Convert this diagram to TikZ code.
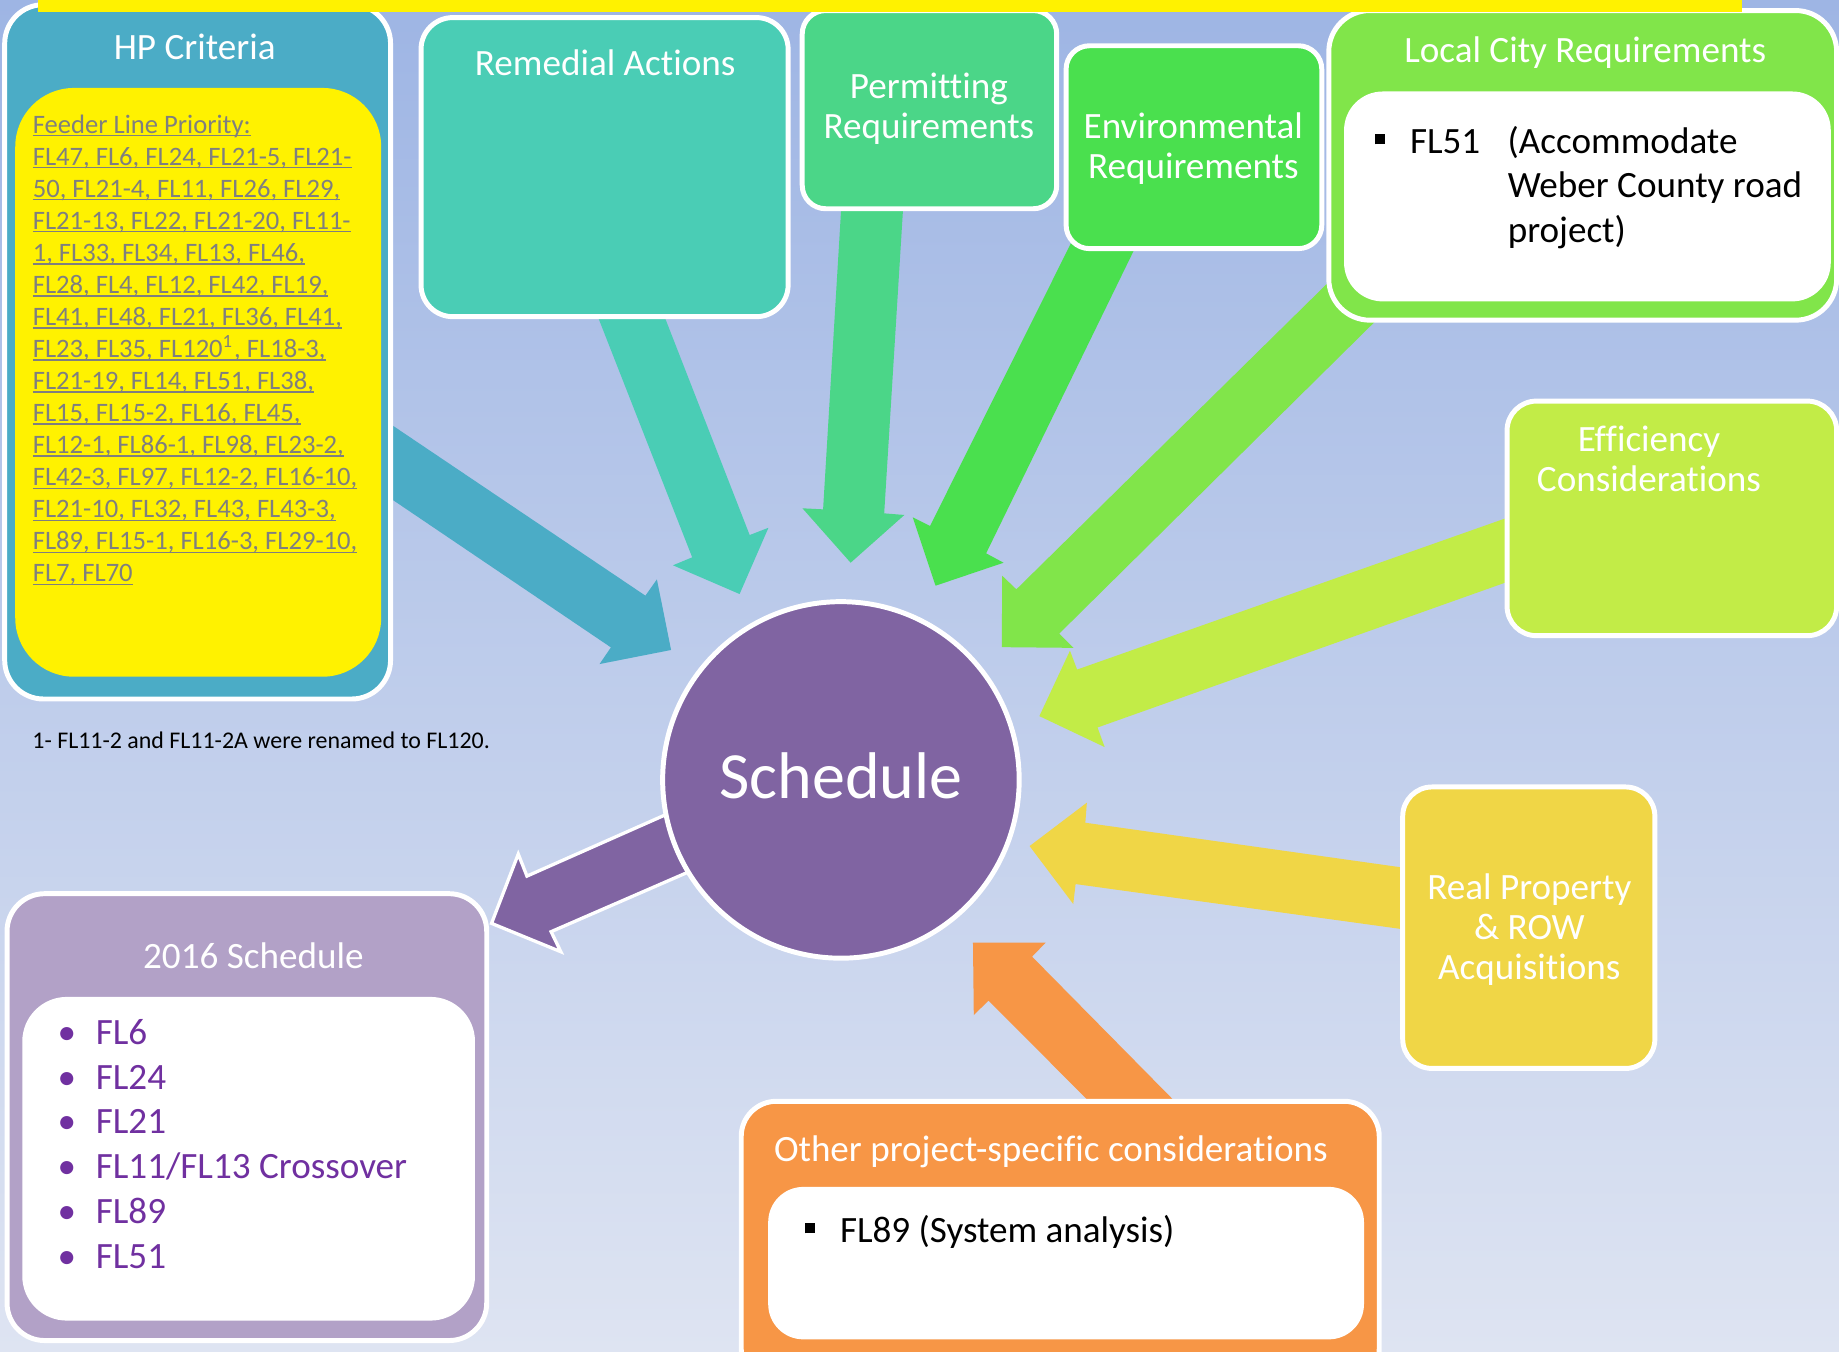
\documentclass[tikz,border=0pt]{standalone}
\usepackage{fontspec}
\setmainfont{Carlito}[Ligatures=NoCommon]
\definecolor{bgtop}{RGB}{158,181,228}
\definecolor{bgbot}{RGB}{222,228,242}
\definecolor{hpc}{HTML}{4BACC6}
\definecolor{remc}{HTML}{4ACDB5}
\definecolor{perc}{HTML}{4BD688}
\definecolor{envc}{HTML}{4AE04E}
\definecolor{locc}{HTML}{81E54A}
\definecolor{effc}{HTML}{C2EC47}
\definecolor{realc}{HTML}{F0D646}
\definecolor{othc}{HTML}{F79646}
\definecolor{schc}{HTML}{8064A2}
\definecolor{sixc}{HTML}{B2A1C7}
\definecolor{purp}{HTML}{7030A0}
\definecolor{fgray}{HTML}{7F7F7F}
\newcommand\centerlines[1]{\vtop{\halign{\hfil##\hfil\cr#1\crcr}}}
\newcommand\leftlines[1]{\vtop{\halign{##\hfil\cr#1\crcr}}}
\newcommand\flul[1]{\setbox0\hbox{#1}\rlap{\rule[-0.75pt]{\wd0}{0.32pt}}\box0}
\newcommand\bsq{\rule[2.1pt]{2.4pt}{2.4pt}}
\begin{document}
\begin{tikzpicture}[x=0.01cm,y=-0.01cm,
  wbox/.style={draw=white,line width=1.2pt},
  head/.style={text=white,inner sep=0,anchor=base,font=\fontsize{9}{9.67}\selectfont},
  listtxt/.style={inner sep=0,anchor=base west,font=\fontsize{9}{10.85}\selectfont},
  blockarrow/.style={draw=none}]
\useasboundingbox (0,0) rectangle (1568,1152);
\begin{scope}
\clip (0,0) rectangle (1568,1152);
\shade[top color=bgtop,bottom color=bgbot] (0,0) rectangle (1568,1152);

% block arrows
\fill[hpc] (320,352.9) -- (550.3,507.9) -- (560.1,494) -- (572.2,554.2) -- (511.2,566.2) -- (520.9,552) -- (320,416.2) -- cycle;
\fill[remc] (501.9,250) -- (590.2,475.2) -- (573.8,482) -- (630.6,506.5) -- (655.2,450) -- (639.2,456.2) -- (558.8,250) -- cycle;
\fill[perc] (718.3,160) -- (701.8,434.3) -- (684.2,433.4) -- (725.3,479.8) -- (771.1,439.1) -- (753.9,437.7) -- (771.1,160) -- cycle;
\fill[envc] (919.3,195) -- (793,448.5) -- (778.2,441.1) -- (797.7,499.4) -- (855.7,479.8) -- (840.8,471.8) -- (975.8,195) -- cycle;
\fill[locc] (1150,223.7) -- (866.6,502.5) -- (854.5,490.9) -- (854.2,551.8) -- (915.4,552.4) -- (903.2,540.2) -- (1185,261.7) -- cycle;
\fill[effc] (1300,436.2) -- (918.4,570.9) -- (912.3,554.8) -- (886.2,610.6) -- (941.9,637) -- (935.8,620.3) -- (1300,490.9) -- cycle;
\fill[realc] (1215,742.4) -- (925.4,701.5) -- (926.7,684.4) -- (877.9,721.4) -- (915.1,770.8) -- (917.1,753.8) -- (1215,794.9) -- cycle;
\fill[othc] (944.5,955) -- (842.8,853.2) -- (830.3,865.5) -- (829.6,803.8) -- (891.5,803.8) -- (880,815.7) -- (1017.4,955) -- cycle;
\filldraw[fill=schc,draw=white,line width=0.8pt,line join=miter] (588,685.6) -- (449.3,747) -- (441.9,728.2) -- (419.1,787.3) -- (478.2,811.5) -- (469.9,794.4) -- (607,734.8) -- cycle;

% boxes
\path[wbox,fill=hpc,rounded corners=0.33cm] (4,4) rectangle (333,596);
\path[fill=yellow,rounded corners=0.5cm] (13,75) rectangle (325,577);
\path[wbox,fill=remc,rounded corners=0.27cm] (359,15) rectangle (672,270);
\path[wbox,fill=perc,rounded corners=0.2cm] (684,9) rectangle (901,178);
\path[wbox,fill=envc,rounded corners=0.2cm] (909,39) rectangle (1127,212);
\path[wbox,fill=locc,rounded corners=0.35cm] (1133,9) rectangle (1566,273);
\path[fill=white,rounded corners=0.33cm] (1146,78) rectangle (1561,257);
\path[wbox,fill=effc,rounded corners=0.25cm] (1285,342) rectangle (1566,542);
\path[wbox,fill=realc,rounded corners=0.25cm] (1196,671) rectangle (1411,911);
\path[wbox,fill=othc,rounded corners=0.3cm] (632,939) rectangle (1176,1180);
\path[fill=white,rounded corners=0.3cm] (655,1012) rectangle (1163,1142);
\path[wbox,fill=sixc,rounded corners=0.32cm] (6,762) rectangle (415,1143);
\path[fill=white,rounded corners=0.38cm] (19,850) rectangle (405,1126);
\path[wbox,fill=schc] (717,665) circle[radius=152];

% top bar
\fill[yellow] (32.4,0) rectangle (1485.3,10);
\end{scope}

% texts
\node[head] (hpt) at (166,50.5) {HP Criteria};
\node[inner sep=0,anchor=base west,text=fgray,font=\fontsize{6.45}{7.77}\selectfont] (feed) at (27.3,113.6) {\leftlines{%
\flul{Feeder Line Priority:}\cr
\flul{FL47, FL6, FL24, FL21-5, FL21-}\cr
\flul{50, FL21-4, FL11, FL26, FL29,}\cr
\flul{FL21-13, FL22, FL21-20, FL11-}\cr
\flul{1, FL33, FL34, FL13, FL46,}\cr
\flul{FL28, FL4, FL12, FL42, FL19,}\cr
\flul{FL41, FL48, FL21, FL36, FL41,}\cr
\flul{FL23, FL35, FL120\textsuperscript{1}, FL18-3,}\cr
\flul{FL21-19, FL14, FL51, FL38,}\cr
\flul{FL15, FL15-2, FL16, FL45,}\cr
\flul{FL12-1, FL86-1, FL98, FL23-2,}\cr
\flul{FL42-3, FL97, FL12-2, FL16-10,}\cr
\flul{FL21-10, FL32, FL43, FL43-3,}\cr
\flul{FL89, FL15-1, FL16-3, FL29-10,}\cr
\flul{FL7, FL70}}};
\node[inner sep=0,anchor=base west,font=\fontsize{5.8}{7}\selectfont] (foot) at (27,638) {1- FL11-2 and FL11-2A were renamed to FL120.};
\node[head] (remt) at (516,64) {Remedial Actions};
\node[head] (pert) at (792,84) {\centerlines{Permitting\cr Requirements}};
\node[head] (envt) at (1017.5,118) {\centerlines{Environmental\cr Requirements}};
\node[head] (loct) at (1351.6,53) {Local City Requirements};
\node[listtxt] (locl) at (1172,130.5) {\leftlines{\makebox[32.1pt][l]{\bsq\hspace{6pt}FL51}(Accommodate\cr\hspace{32.1pt}Weber County road\cr\hspace{32.1pt}project)}};
\node[head] (efft) at (1406,385) {\centerlines{Efficiency\cr Considerations}};
\node[head] (realt) at (1304,767) {\centerlines{Real Property\cr \& ROW\cr Acquisitions}};
\node[head] (otht) at (896,990) {Other project-specific considerations};
\node[listtxt] (othl) at (686,1059) {\bsq\hspace{6pt}FL89 (System analysis)};
\node[head] (sixt) at (216,825.5) {2016 Schedule};
\node[listtxt,text=purp] (sixl) at (48.5,890.5) {\leftlines{%
\makebox[9.25pt][l]{\textbullet}FL6\cr
\makebox[9.25pt][l]{\textbullet}FL24\cr
\makebox[9.25pt][l]{\textbullet}FL21\cr
\makebox[9.25pt][l]{\textbullet}FL11/FL13 Crossover\cr
\makebox[9.25pt][l]{\textbullet}FL89\cr
\makebox[9.25pt][l]{\textbullet}FL51}};
\node[text=white,inner sep=0,anchor=base,font=\fontsize{16}{19}\selectfont] (scht) at (717,681) {Schedule};
\end{tikzpicture}
\end{document}
